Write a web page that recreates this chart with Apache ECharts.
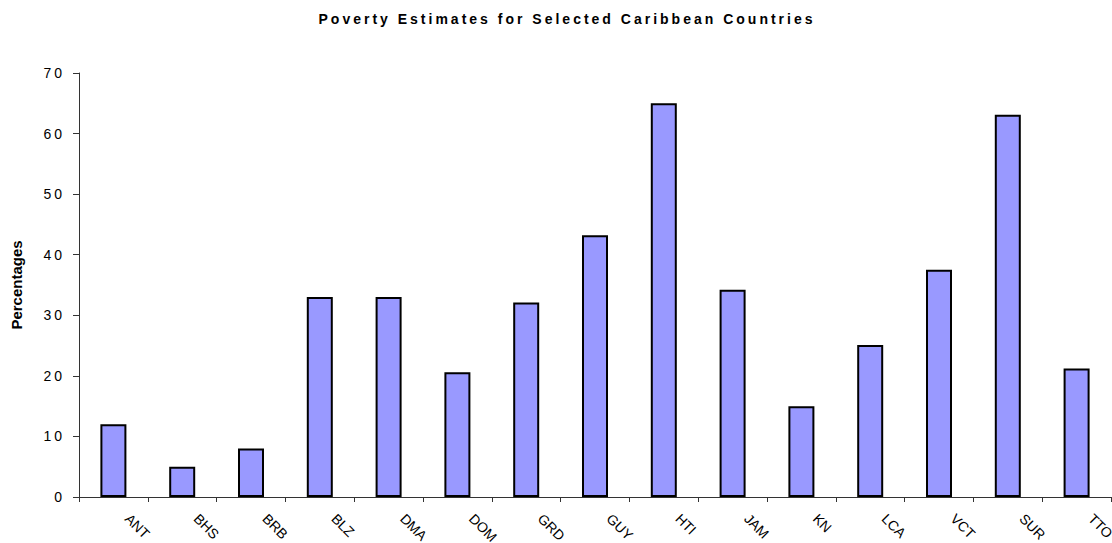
<!DOCTYPE html>
<html>
<head>
<meta charset="utf-8">
<script src="https://cdn.jsdelivr.net/npm/echarts@6/dist/echarts.min.js"></script>
<style>
  html, body { margin: 0; padding: 0; background: #fff; }
  #chart { width: 1112px; height: 543px; }
  /* spaced lettering for the title and value-axis labels */
  #chart text[style*="Arimo"] { letter-spacing: 3px; }
</style>
</head>
<body>
<div id="chart"></div>
<script>
const titleText = 'Poverty Estimates for Selected Caribbean Countries';
const yAxisTitle = 'Percentages';
const categories = ['ANT', 'BHS', 'BRB', 'BLZ', 'DMA', 'DOM', 'GRD', 'GUY', 'HTI', 'JAM', 'KN', 'LCA', 'VCT', 'SUR', 'TTO'];
const povertyValues = [12, 5, 8, 33, 33, 20.6, 32.1, 43.2, 65, 34.2, 15, 25.1, 37.5, 63.1, 21.2];
const yMin = 0;
const yMax = 70;
const yStep = 10;

const spacedFont = 'Liberation Sans, Arimo, sans-serif';
const plainFont = 'Liberation Sans, sans-serif';

const chart = echarts.init(document.getElementById('chart'), null, { renderer: 'svg' });
chart.setOption({
  animation: false,
  backgroundColor: '#ffffff',
  title: {
    text: titleText,
    left: 567,
    top: 12,
    padding: 0,
    textAlign: 'center',
    textStyle: { fontFamily: spacedFont, fontSize: 14, fontWeight: 'bold', color: '#000' }
  },
  grid: { left: 79, right: 1, top: 73, bottom: 46, outerBoundsMode: 'none', containLabel: false },
  xAxis: {
    type: 'category',
    data: categories,
    boundaryGap: true,
    axisLine: { show: true, lineStyle: { color: '#333', width: 1 } },
    axisTick: { show: true, alignWithLabel: false, length: 5, inside: false, lineStyle: { color: '#333' } },
    axisLabel: {
      interval: 0,
      rotate: -45,
      margin: 5,
      padding: [0, 0, 0, 20],
      fontFamily: plainFont,
      fontSize: 14,
      color: '#000'
    },
    splitLine: { show: false }
  },
  yAxis: {
    type: 'value',
    min: yMin,
    max: yMax,
    interval: yStep,
    name: yAxisTitle,
    nameLocation: 'middle',
    nameGap: 55,
    nameTextStyle: { fontFamily: plainFont, fontSize: 15, fontWeight: 'bold', color: '#000' },
    axisLine: { show: true, lineStyle: { color: '#333', width: 1 } },
    axisTick: { show: true, length: 6, inside: false, lineStyle: { color: '#333' } },
    axisLabel: { margin: 14, fontFamily: spacedFont, fontSize: 14, color: '#000' },
    splitLine: { show: false }
  },
  series: [{
    type: 'bar',
    data: povertyValues,
    barWidth: 26,
    itemStyle: { color: '#9999FF', borderColor: '#000', borderWidth: 2 },
    emphasis: { disabled: true }
  }]
});
</script>
</body>
</html>
